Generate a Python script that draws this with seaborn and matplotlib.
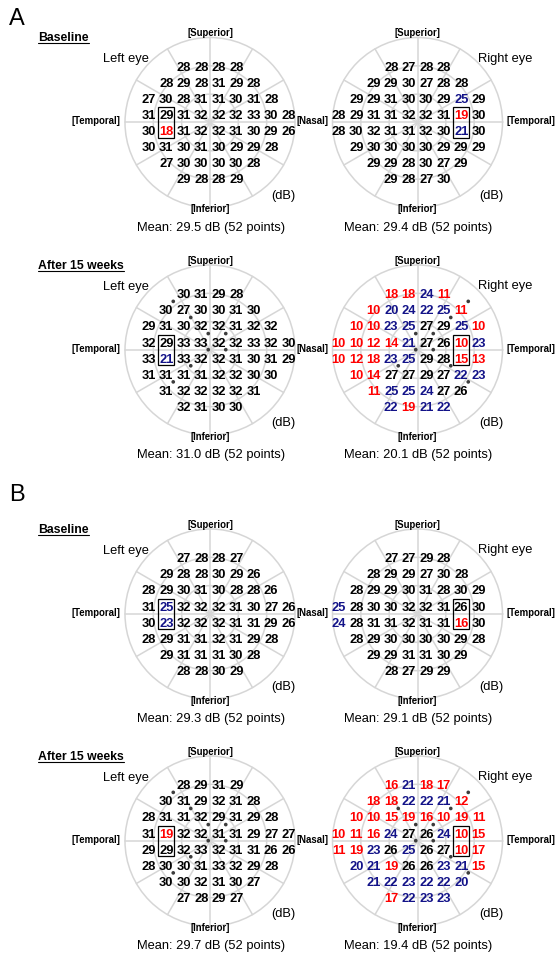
import numpy as np
import pandas as pd
import matplotlib
matplotlib.use("Agg")
import matplotlib.pyplot as plt
from matplotlib.patches import Circle, Rectangle
import seaborn as sns

# ---------------- data (rows from superior to inferior, as displayed) ----------------
row_sizes = [4, 6, 8, 9, 9, 8, 6, 4]

A_base_left = [[28, 28, 28, 28], [28, 29, 28, 31, 29, 28], [27, 30, 28, 31, 31, 30, 31, 28],
               [31, 29, 31, 32, 32, 32, 33, 30, 28], [30, 18, 31, 32, 32, 31, 30, 29, 26],
               [30, 31, 30, 31, 30, 29, 29, 28], [27, 30, 30, 30, 30, 28], [29, 28, 28, 29]]
A_base_right = [[28, 27, 28, 28], [29, 29, 30, 27, 28, 28], [29, 29, 31, 30, 30, 29, 25, 29],
                [28, 29, 31, 31, 32, 32, 31, 19, 30], [28, 30, 32, 31, 31, 32, 30, 21, 30],
                [29, 30, 30, 30, 30, 29, 29, 29], [29, 29, 28, 30, 27, 29], [29, 28, 27, 30]]
A_after_left = [[30, 31, 29, 28], [30, 27, 30, 30, 31, 30], [29, 31, 30, 32, 32, 31, 32, 32],
                [32, 29, 33, 33, 32, 32, 33, 32, 30], [33, 21, 33, 32, 32, 31, 30, 31, 29],
                [31, 31, 31, 31, 32, 32, 30, 30], [31, 32, 32, 32, 32, 31], [32, 31, 30, 30]]
A_after_right = [[18, 18, 24, 11], [10, 20, 24, 22, 25, 11], [10, 10, 23, 25, 27, 29, 25, 10],
                 [10, 10, 12, 14, 21, 27, 26, 10, 23], [10, 12, 18, 23, 25, 29, 28, 15, 13],
                 [10, 14, 27, 27, 29, 27, 22, 23], [11, 25, 25, 24, 27, 26], [22, 19, 21, 22]]
B_base_left = [[27, 28, 28, 27], [29, 28, 28, 30, 29, 26], [28, 29, 30, 31, 30, 28, 28, 26],
               [31, 25, 32, 32, 32, 31, 30, 27, 26], [30, 23, 32, 32, 32, 31, 31, 29, 26],
               [28, 29, 31, 31, 32, 31, 29, 28], [29, 31, 31, 31, 30, 28], [28, 28, 30, 29]]
B_base_right = [[27, 27, 29, 28], [28, 29, 29, 27, 30, 28], [28, 29, 29, 30, 31, 28, 30, 29],
                [25, 28, 30, 30, 32, 32, 31, 26, 30], [24, 28, 31, 31, 32, 31, 31, 16, 30],
                [28, 29, 30, 30, 30, 30, 29, 28], [29, 29, 31, 31, 30, 29], [28, 27, 29, 29]]
B_after_left = [[28, 29, 31, 29], [30, 31, 29, 32, 31, 28], [28, 31, 31, 32, 29, 31, 29, 28],
                [31, 19, 32, 32, 31, 31, 29, 27, 27], [29, 29, 32, 33, 32, 31, 31, 26, 26],
                [28, 30, 30, 31, 33, 32, 29, 28], [30, 30, 32, 31, 30, 27], [27, 28, 29, 27]]
B_after_right = [[16, 21, 18, 17], [18, 18, 22, 22, 21, 12], [10, 10, 15, 19, 16, 10, 19, 11],
                 [10, 11, 16, 24, 27, 26, 24, 10, 15], [11, 19, 23, 26, 25, 26, 27, 10, 17],
                 [20, 21, 19, 26, 26, 23, 21, 15], [21, 22, 23, 22, 22, 20], [17, 22, 23, 23]]

means = {"A_base_left": "29.5", "A_base_right": "29.4", "A_after_left": "31.0", "A_after_right": "20.1",
         "B_base_left": "29.3", "B_base_right": "29.1", "B_after_left": "29.7", "B_after_right": "19.4"}

# asterisk-like marks (grid units: x to the right, y up, relative to field centre)
dots_after_left_x = [-2, -1, 0, 1, 0, 1, -1, -2]
dots_after_left_y = [3, 2, 1, 1, 0, 0, -1, -2]
dots_A_after_right_x = [3, 2, 0, 1, 0, 1, -1, 2, 3]
dots_A_after_right_y = [3, 2, 1, 1, 0, 0, -1, -1, -2]
dots_B_after_right_x = [3, 2, -1, 0, 1, 0, 1, 2, 3]
dots_B_after_right_y = [3, 2, 2, 1, 1, 0, 0, -1, -2]

sections = ["Baseline", "After 15 weeks", "Baseline", "After 15 weeks"]
panel_letters = ["A", "B"]

# ---------------- style / layout ----------------
sns.set_theme(style="white")
plt.rcParams["font.family"] = ["Liberation Sans", "DejaVu Sans"]

W, H = 558, 955
fig = plt.figure(figsize=(W / 100, H / 100), dpi=100)
ax = fig.add_axes([0, 0, 1, 1])
ax.set_xlim(0, W)
ax.set_ylim(H, 0)
ax.axis("off")

PX = 100 / 72
DX, DY = 17.5, 16.1
R = 85
GRID = "#d6d6d6"
RED, BLUE = "#ff0000", "#121288"
row_centers = [122.5, 350, 614, 841]
col_centers = [210, 417.5]


def txt(x, y, s, size, weight="normal", color="black", ha="center"):
    return ax.text(x, y + 0.358 * size * PX, s, fontsize=size, fontweight=weight,
                   color=color, ha=ha, va="baseline")


def value_color(v):
    if v < 20:
        return RED
    if v <= 25:
        return BLUE
    return "black"


def panel_frame(rows, eye):
    starts_left = [-1.5, -2.5, -3.5, -3.5, -3.5, -3.5, -2.5, -1.5]
    starts_right = [-1.5, -2.5, -3.5, -4.5, -4.5, -3.5, -2.5, -1.5]
    starts = starts_left if eye == "left" else starts_right
    recs = []
    for k, row in enumerate(rows):
        for j, v in enumerate(row):
            recs.append({"u": starts[k] + j, "v": 3.5 - k, "val": v})
    return pd.DataFrame(recs)


def draw_grid(cx, cy):
    for f in (1 / 3, 2 / 3, 1.0):
        ax.add_patch(Circle((cx, cy), R * f, fill=False, ec=GRID, lw=1.1, zorder=1))
    for a in np.deg2rad(np.arange(0, 180, 30)):
        ax.plot([cx - R * np.cos(a), cx + R * np.cos(a)],
                [cy - R * np.sin(a), cy + R * np.sin(a)], color=GRID, lw=1.1, zorder=1)


def draw_panel(cx, cy, rows, eye, mean, dx=None, dy=None):
    draw_grid(cx, cy)
    df = panel_frame(rows, eye)
    df["x"] = cx + df["u"] * DX
    df["y"] = cy - df["v"] * DY
    for _, r in df.iterrows():
        txt(r["x"], r["y"], str(int(r["val"])), 9.3, weight="bold", color=value_color(r["val"]))
    # blind-spot box
    bu = -2.5 if eye == "left" else 2.5
    ax.add_patch(Rectangle((cx + bu * DX - 8.2, cy - 15.2), 16.4, 30.4, fill=False,
                           ec="black", lw=0.9, zorder=3))
    if dx is not None:
        dd = pd.DataFrame({"x": cx + (np.array(dx) - 0.1) * DX,
                           "y": cy - (np.array(dy) + 0.02) * DY})
        sns.scatterplot(data=dd, x="x", y="y", ax=ax, s=7, color="#3c3c3c",
                        edgecolor="none", legend=False, zorder=4)
    txt(cx, cy - 89.5, "[Superior]", 6.9, weight="bold")
    txt(cx, cy + 86.5, "[Inferior]", 6.9, weight="bold")
    if eye == "left":
        txt(cx - 114, cy - 1.5, "[Temporal]", 6.9, weight="bold")
        txt(cx - 84, cy - 65, "Left eye", 9.3)
        txt(cx + 73, cy + 71.5, "(dB)", 9.3)
    else:
        txt(cx + 113.5, cy - 1.5, "[Temporal]", 6.9, weight="bold")
        txt(cx + 88, cy - 65.5, "Right eye", 9.3)
        txt(cx + 73.5, cy + 71.5, "(dB)", 9.3)
    txt(cx + 1, cy + 103.5, f"Mean: {mean} dB (52 points)", 9.3)


panels = [
    (0, A_base_left, A_base_right, "A_base", None, None, None, None),
    (1, A_after_left, A_after_right, "A_after", dots_after_left_x, dots_after_left_y,
     dots_A_after_right_x, dots_A_after_right_y),
    (2, B_base_left, B_base_right, "B_base", None, None, None, None),
    (3, B_after_left, B_after_right, "B_after", dots_after_left_x, dots_after_left_y,
     dots_B_after_right_x, dots_B_after_right_y),
]

heads = []
for i, left, right, key, lx, ly, rx, ry in panels:
    cy = row_centers[i]
    draw_panel(col_centers[0], cy, left, "left", means[key + "_left"], lx, ly)
    draw_panel(col_centers[1], cy, right, "right", means[key + "_right"], rx, ry)
    txt((col_centers[0] + col_centers[1]) / 2 - 1.5, cy - 1.5, "[Nasal]", 6.9, weight="bold")
    hy = cy - 85.5
    t = txt(38, hy, sections[i], 8.8, weight="bold", ha="left")
    heads.append((t, hy))

txt(9, 17, panel_letters[0], 17, ha="left")
txt(9, 493, panel_letters[1], 17, ha="left")

# underline the section headings
fig.canvas.draw()
inv = ax.transData.inverted()
for t, hy in heads:
    bb = t.get_window_extent()
    (x0, _), (x1, _) = inv.transform([[bb.x0, bb.y0], [bb.x1, bb.y1]])
    uy = hy + 0.358 * 8.8 * PX + 1.8
    ax.plot([x0, x1], [uy, uy], color="black", lw=0.8)

ax.set_xlim(0, W)
ax.set_ylim(H, 0)
ax.axis("off")
fig.savefig("out.png", dpi=100)
